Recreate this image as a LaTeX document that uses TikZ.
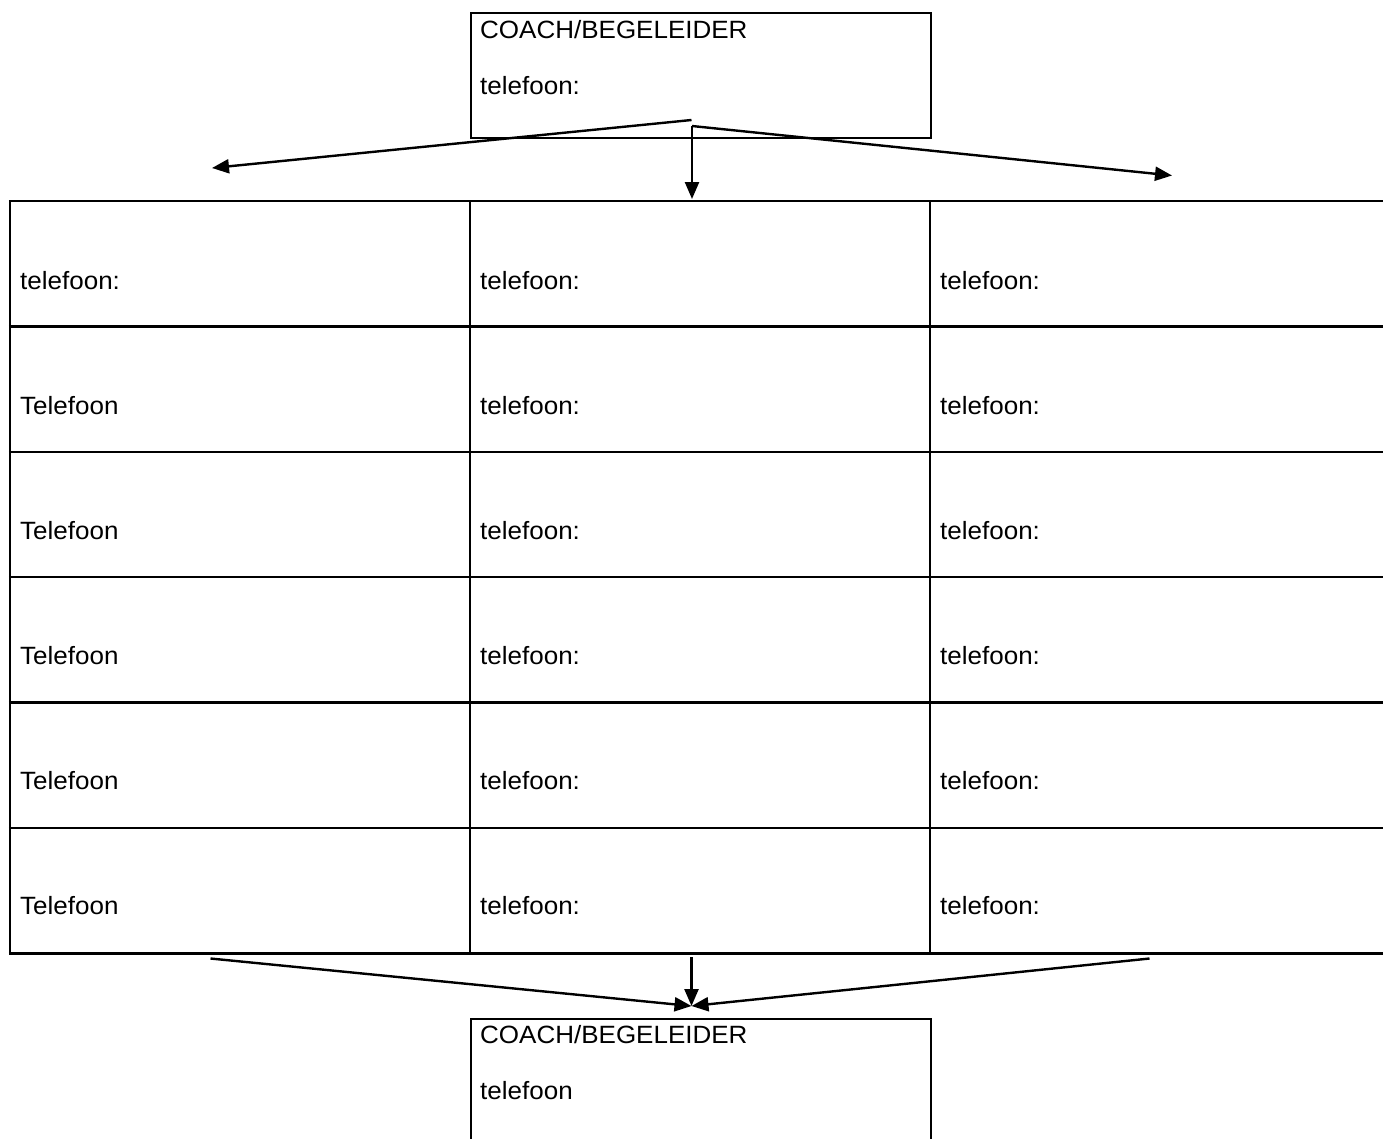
\documentclass[tikz,border=0pt]{standalone}
\usepackage{fontspec}
\setmainfont[FakeStretch=1.04]{Liberation Sans}
\usetikzlibrary{arrows.meta}
\begin{document}
\begin{tikzpicture}[x=1pt,y=-1pt,
  lbl/.style={anchor=base west,inner sep=0pt,font=\fontsize{25}{30}\selectfont},
  frame/.style={draw,line width=2.4pt,rectangle,inner sep=0pt,anchor=north west},
  gridline/.style={line width=2.4pt},
  arr/.style={line width=2.4pt,-{Triangle[length=17pt,width=14pt]}},
]
\useasboundingbox (0,0) rectangle (1383,1138);
\fill[white] (0,0) rectangle (1383,1138);

% top box
\node[frame,minimum width=460pt,minimum height=125pt] (coachtop) at (470,12) {};
\node[lbl] (coachtopA) at (480,38.3) {COACH/BEGELEIDER};
\node[lbl] (coachtopB) at (480,94.5) {telefoon:};

% bottom box
\node[frame,minimum width=460pt,minimum height=140pt] (coachbot) at (470,1018) {};
\node[lbl] (coachbotA) at (480,1043.3) {COACH/BEGELEIDER};
\node[lbl] (coachbotB) at (480,1099.3) {telefoon};

% table grid
\foreach \yy in {201,326.5,452,577,702.5,828,953.5}
  \draw[gridline] (8.8,\yy) -- (1390,\yy);
\foreach \xx in {10,470,930}
  \draw[gridline] (\xx,200) -- (\xx,954.7);

% cell texts
\foreach \r/\yy/\first in {1/289/telefoon:,2/414/Telefoon,3/539/Telefoon,4/664/Telefoon,5/789/Telefoon,6/914.3/Telefoon}{
  \node[lbl] (c\r a) at (20,\yy) {\first};
  \node[lbl] (c\r b) at (480,\yy) {telefoon:};
  \node[lbl] (c\r c) at (940,\yy) {telefoon:};
}

% top connectors
\coordinate (tl0) at (691.5,120);
\coordinate (tlT) at (212,168);
\coordinate (tr0) at (692,126);
\coordinate (trT) at (1172,175.5);
\coordinate (tmT) at (692,199);
\draw[arr] (tl0) -- (tlT);
\draw[arr] (tr0) -- (trT);
\draw[arr] (tr0) -- (tmT);

% bottom connectors
\coordinate (bl0) at (210.5,958.5);
\coordinate (bm0) at (691.5,957);
\coordinate (br0) at (1149.5,958.5);
\coordinate (bT) at (691.5,1006);
\draw[arr] (bl0) -- (bT);
\draw[arr] (bm0) -- (bT);
\draw[arr] (br0) -- (bT);
\end{tikzpicture}
\end{document}
